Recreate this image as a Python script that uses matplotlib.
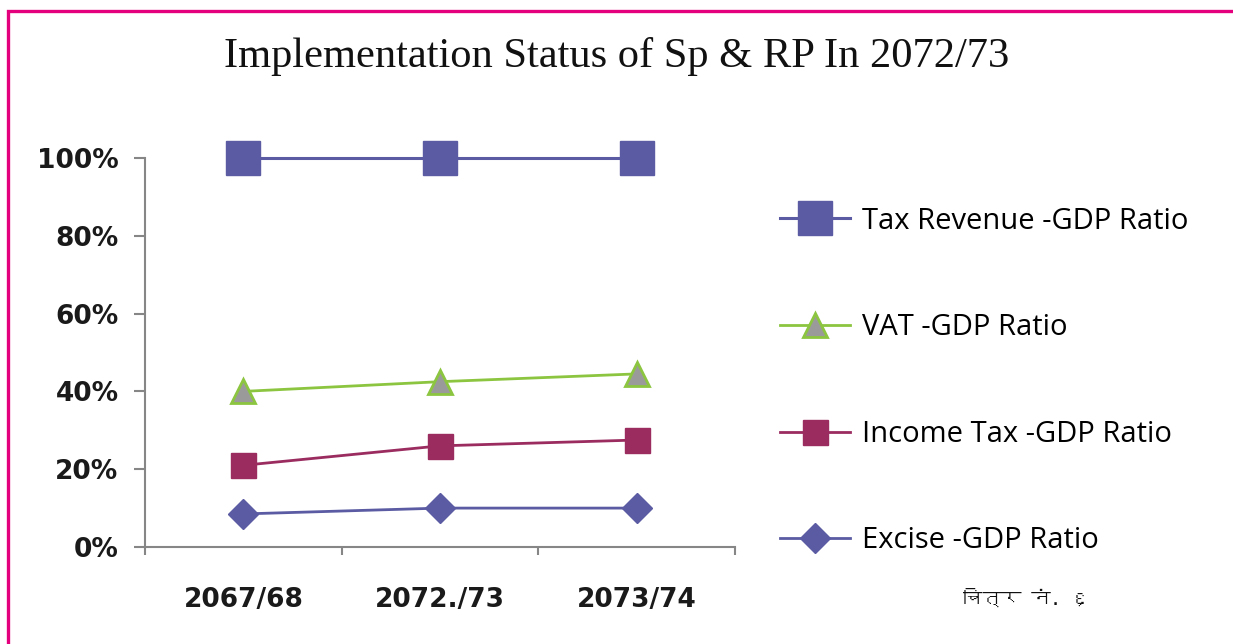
import matplotlib
matplotlib.use('Agg')
import matplotlib.pyplot as plt
from matplotlib import font_manager
from matplotlib.ft2font import FT2Font
from matplotlib.patches import Rectangle

# data
years = ['2067/68', '2072./73', '2073/74']
tax_revenue = [100, 100, 100]
vat = [40, 42.5, 44.5]
income_tax = [21, 26, 27.5]
excise = [8.5, 10, 10]
y_ticks = [0, 20, 40, 60, 80, 100]

title = 'Implementation Status of Sp & RP In 2072/73'
fig_note = 'चित्र नं. ६'


def font_with(ch):
    # look for any installed font that has the glyph
    for f in font_manager.fontManager.ttflist:
        try:
            if ord(ch) in FT2Font(f.fname).get_charmap():
                return f.name
        except Exception:
            pass
    return None


W, H = 1233, 644
fig = plt.figure(figsize=(W / 100, H / 100), dpi=100)
fig.patch.set_facecolor('white')

# pink frame, open to the right and bottom
fig.add_artist(Rectangle((8 / W, -0.1), 1.2, 1.1 - 11 / H, transform=fig.transFigure,
                         fill=False, edgecolor='#E4007C', linewidth=2.4, clip_on=False))

fig.text(0.5, 1 - 67 / H, title, ha='center', va='baseline',
         family='Liberation Serif', fontsize=30.6, color='#111111')

ax = fig.add_axes([145 / W, 97 / H, 590 / W, 389 / H])
x = list(range(len(years)))

ax.plot(x, tax_revenue, color='#5A5BA2', lw=2.2, marker='s', ms=25,
        mfc='#5A5BA2', mec='#5A5BA2', clip_on=False, label='Tax Revenue -GDP Ratio')
ax.plot(x, vat, color='#8CC540', lw=2, marker='^', ms=17, mfc='#9A9A9A',
        mec='#8CC540', mew=2, clip_on=False, label='VAT -GDP Ratio')
ax.plot(x, income_tax, color='#9A2C60', lw=2, marker='s', ms=18,
        mfc='#9A2C60', mec='#9A2C60', clip_on=False, label='Income Tax -GDP Ratio')
ax.plot(x, excise, color='#5A5BA2', lw=2, marker='D', ms=15.5,
        mfc='#5A5BA2', mec='#5A5BA2', clip_on=False, label='Excise -GDP Ratio')

ax.set_xlim(-0.5, len(years) - 0.5)
ax.set_ylim(0, 100)
for s in ['top', 'right']:
    ax.spines[s].set_visible(False)
for s in ['left', 'bottom']:
    ax.spines[s].set_color('#868686')
    ax.spines[s].set_linewidth(1.5)

ax.set_yticks(y_ticks)
ax.set_yticklabels([f'{v}%' for v in y_ticks])
ax.tick_params(axis='y', length=8, width=1.5, color='#868686', pad=11,
               labelsize=19, labelcolor='#1a1a1a')
ax.set_xticks(x)
ax.set_xticklabels(years)
ax.set_xticks([i - 0.5 for i in range(len(years) + 1)], minor=True)
ax.tick_params(axis='x', which='major', length=0, pad=29, labelsize=19, labelcolor='#1a1a1a')
ax.tick_params(axis='x', which='minor', length=6, width=1.5, color='#868686')
for lab in ax.get_xticklabels() + ax.get_yticklabels():
    lab.set_fontweight('bold')
    lab.set_family('DejaVu Sans')

leg = ax.legend(loc='center left', bbox_to_anchor=(780 / W, 1 - 381 / H),
                bbox_transform=fig.transFigure, frameon=False, borderpad=0,
                borderaxespad=0, handlelength=2.4, handletextpad=0.4,
                labelspacing=2.66, prop={'family': 'Open Sans', 'size': 21})

dev = font_with('च')
fams = [dev, 'DejaVu Sans'] if dev else ['DejaVu Sans']
fig.text(963 / W, 1 - 605 / H, fig_note, ha='left', va='baseline',
         family=fams, fontsize=14, fontweight='bold', color='#111111')

fig.savefig('out.png', dpi=100, facecolor='white')
